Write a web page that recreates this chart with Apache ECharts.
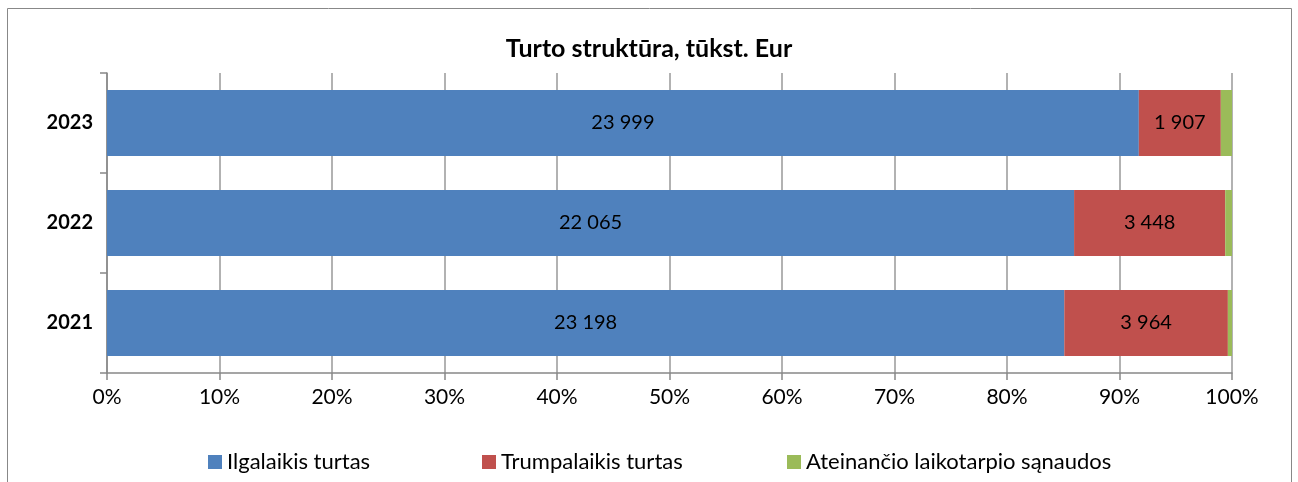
<!DOCTYPE html>
<html><head><meta charset="utf-8">
<script src="https://cdn.jsdelivr.net/npm/echarts@6/dist/echarts.min.js"></script>
<style>html,body{margin:0;padding:0;background:#fff}#c{width:1298px;height:482px}</style>
</head><body><div id="c"></div>
<script>
const years = ['2021', '2022', '2023'];
const ilgalaikis = [23198, 22065, 23999];
const trumpalaikis = [3964, 3448, 1907];
const sanaudos = [100, 155, 260];
const seriesNames = ['Ilgalaikis turtas', 'Trumpalaikis turtas', 'Ateinančio laikotarpio sąnaudos'];
const xTicks = [0, 10, 20, 30, 40, 50, 60, 70, 80, 90, 100];

const totals = years.map((_, i) => ilgalaikis[i] + trumpalaikis[i] + sanaudos[i]);
const pct = arr => arr.map((v, i) => ({ value: v / totals[i] * 100, raw: v }));
const fmt = v => String(v).replace(/\B(?=(\d{3})+(?!\d))/g, ' ');
const FONT = 'Lato, "Noto Sans", sans-serif';
const colors = ['#4F81BD', '#C0504D', '#9BBB59'];

const chart = echarts.init(document.getElementById('c'), null, { renderer: 'canvas' });
const mk = (name, arr, color, showLabel) => ({
  name, type: 'bar', stack: 'a', barWidth: '66%', data: pct(arr),
  itemStyle: { color },
  label: { show: showLabel, position: 'inside', color: '#000', fontFamily: FONT, fontSize: 20,
    formatter: p => fmt(p.data.raw) },
  emphasis: { disabled: true }
});
const legendStyle = { fontFamily: FONT, fontSize: 22, color: '#000' };
chart.setOption({
  animation: false,
  title: { text: 'Turto struktūra, tūkst. Eur', left: 'center', top: 31,
    textStyle: { fontFamily: FONT, fontSize: 25, fontWeight: 'bold', color: '#000' } },
  graphic: [{ type: 'rect', shape: { x: 7.5, y: 8.5, width: 1284, height: 490 },
    style: { fill: 'none', stroke: '#888', lineWidth: 1 }, silent: true }],
  legend: [0, 1, 2].map((k, i) => ({
    data: [seriesNames[k]], left: [203, 477, 782][i], top: 446, itemWidth: 14, itemHeight: 14,
    icon: 'rect', itemGap: 6, textStyle: legendStyle, selectedMode: false
  })),
  grid: { left: 107, right: 66, top: 73, height: 300, containLabel: false },
  xAxis: {
    type: 'value', min: 0, max: 100, interval: 10,
    axisLine: { show: true, lineStyle: { color: '#888', width: 1.5 } },
    axisTick: { show: true, length: 7, lineStyle: { color: '#888', width: 1.5 } },
    splitLine: { show: true, lineStyle: { color: '#999', width: 1.5 } },
    axisLabel: { formatter: v => xTicks.includes(v) ? v + '%' : '', fontFamily: FONT, fontSize: 21, color: '#000', margin: 14 }
  },
  yAxis: {
    type: 'category', data: years,
    axisLine: { show: true, lineStyle: { color: '#888', width: 1.5 } },
    axisTick: { show: true, length: 7, lineStyle: { color: '#888', width: 1.5 } },
    axisLabel: { fontFamily: FONT, fontSize: 20, fontWeight: 'bold', color: '#000', margin: 14 }
  },
  series: [
    mk(seriesNames[0], ilgalaikis, colors[0], true),
    mk(seriesNames[1], trumpalaikis, colors[1], true),
    mk(seriesNames[2], sanaudos, colors[2], false)
  ]
});
</script></body></html>
